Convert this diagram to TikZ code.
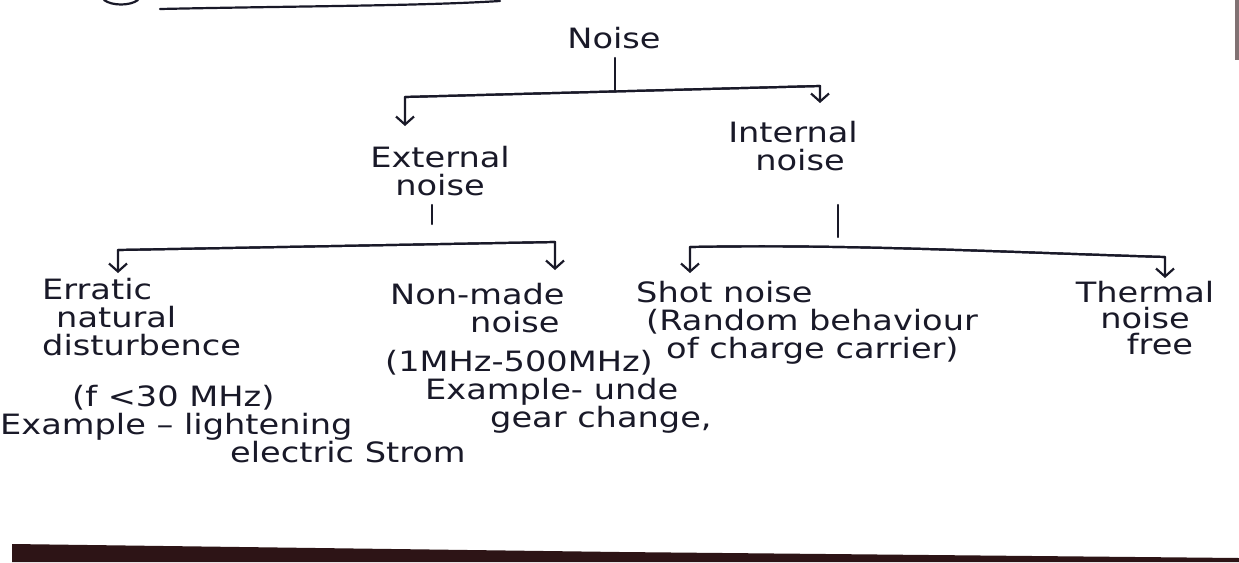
\documentclass[tikz,border=0pt]{standalone}
\usepackage{fontspec}
\setmainfont{DejaVu Sans}[FakeStretch=1.2]
\usetikzlibrary{arrows.meta}
\definecolor{ink}{RGB}{25,25,40}
\definecolor{edgedark}{RGB}{45,20,22}
\begin{document}
\begin{tikzpicture}[x=1pt,y=-1pt,
  lbl/.style={font=\fontsize{28}{28}\selectfont, text=ink, inner sep=0pt, align=left},
  lblc/.style={lbl, align=center},
  stem/.style={draw=ink, line width=2.2pt, line cap=round, line join=round},
  arr/.style={stem, -{Straight Barb[length=8pt,width=18pt]}}]
\useasboundingbox (0,0) rectangle (1239,562);
\fill[white] (0,0) rectangle (1239,562);
% photo edge artefacts
\fill[edgedark] (12,544) -- (620,552) -- (1239,558) -- (1239,562) -- (12,562) -- cycle;
\fill[edgedark!60] (1235,0) rectangle (1239,60);
\draw[stem] (160,9) .. controls (300,6) and (420,6) .. (500,1);
\draw[stem] (104,0) .. controls (112,6) and (130,6) .. (138,0);
% nodes (anchor base = baseline of the last line)
\node[lblc, anchor=base] (noise) at (614,48) {Noise};
\node[lblc, anchor=base] (ext) at (440,195) {External\\noise};
\node[lblc, anchor=base] (int) at (793,170) {Internal\\\hspace*{14pt}noise};
\node[lbl, anchor=base west] (err) at (42,355) {Erratic\\\hspace*{14pt}natural\\disturbence};
\node[lbl, anchor=base west] (errinfo) at (0,462) {\hspace*{72pt}(f <30 MHz)\\Example -- lightening\\\hspace*{230pt}electric Strom};
\node[lbl, anchor=base west] (man) at (390,332) {Non-made\\\hspace*{80pt}noise};
\node[lbl, anchor=base west] (maninfo) at (385,427) {(1MHz-500MHz)\\\hspace*{40pt}Example- unde\\\hspace*{105pt}gear change,};
\node[lbl, anchor=base west] (shot) at (636,358) {Shot noise\\\hspace*{10pt}(Random behaviour\\\hspace*{30pt}of charge carrier)};
\node[lblc, anchor=base, font=\fontsize{28}{26}\selectfont] (therm) at (1145,354) {Thermal\\noise\\\hspace*{30pt}free};
% connectors
\coordinate (nt1) at (615,58);  \coordinate (nt2) at (615,90);
\coordinate (nl) at (405,97);   \coordinate (nr) at (820,86);
\coordinate (nla) at (405,126); \coordinate (nra) at (820,103);
\draw[stem] (nt1) -- (nt2);
\draw[arr] (nr) -- (nl) -- (nla);
\draw[arr] (nl) -- (nr) -- (nra);
\coordinate (et1) at (432,205); \coordinate (et2) at (432,224);
\coordinate (el) at (118,250);  \coordinate (er) at (555,242);
\coordinate (ela) at (118,273); \coordinate (era) at (555,270);
\draw[stem] (et1) -- (et2);
\draw[arr] (er) -- (el) -- (ela);
\draw[arr] (el) -- (er) -- (era);
\coordinate (it1) at (838,205); \coordinate (it2) at (838,237);
\coordinate (il) at (690,247);  \coordinate (ir) at (1165,257);
\coordinate (ila) at (690,273); \coordinate (ira) at (1165,278);
\draw[stem] (it1) -- (it2);
\draw[arr] (ir) .. controls (1000,252) and (850,244) .. (il) -- (ila);
\draw[arr] (il) .. controls (850,244) and (1000,252) .. (ir) -- (ira);
\end{tikzpicture}
\end{document}
